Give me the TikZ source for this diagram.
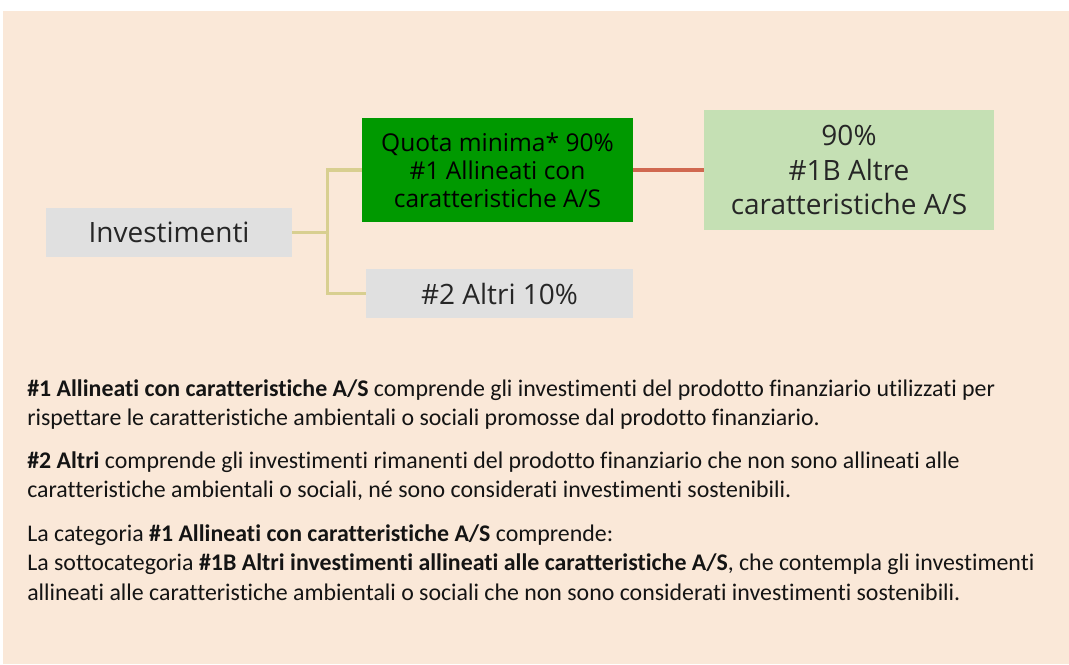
\documentclass[tikz,border=0pt]{standalone}
\usepackage{fontspec}
\setmainfont{Carlito}[Ligatures=CommonOff]
\newfontfamily\boxfont{Open Sans}
\usetikzlibrary{positioning}

\definecolor{pagebg}{RGB}{250,232,216}
\definecolor{greybox}{RGB}{224,224,224}
\definecolor{darkgreen}{RGB}{0,153,0}
\definecolor{lightgreen}{RGB}{197,224,180}
\definecolor{branchline}{RGB}{216,207,144}
\definecolor{sublink}{RGB}{208,104,80}
\definecolor{boxtext}{RGB}{38,38,38}
\definecolor{bodytext}{RGB}{20,20,20}

\begin{document}
\begin{tikzpicture}[
        % Picture Config (1 unit = 1 px of the page)
        x=0.75pt, y=-0.75pt,
        MapBox/.style={% Style for the boxes of the map
          inner sep=0pt,
          align=center,
          text=boxtext,
          font=\boxfont\fontsize{21}{26}\selectfont
        },
        GreyBox/.style={MapBox, fill=greybox},
        Branch/.style={% Style for the main branches
          draw=branchline,
          line width=2.3pt
        },
        SubLink/.style={% Style for the sub category link
          draw=sublink,
          line width=2.4pt
        },
        NoteText/.style={% Style for the notes below
          anchor=north west,
          inner sep=0pt,
          align=left,
          text=bodytext,
          font=\fontsize{17.9}{22}\selectfont
        }
      ]

      % Page background
      \useasboundingbox (0,0) rectangle (1069,664);
      \fill[pagebg] (3,11) rectangle (1069,664);

      % Put the boxes in position
      \node[GreyBox, minimum width=184.5pt, minimum height=36.75pt] (Inv) at (169,232.5) {Investimenti};
      \node[MapBox, fill=darkgreen, text=black, minimum width=203.25pt, minimum height=78pt,
            font=\boxfont\fontsize{18.4}{21}\selectfont] (Quota) at (497.5,170)
          {Quota minima* 90\%\\\#1 Allineati con\\caratteristiche A/S};
      \node[GreyBox, minimum width=200.25pt, minimum height=36.75pt] (Altri) at (499.5,293.5) {\#2 Altri 10\%};
      \node[MapBox, fill=lightgreen, minimum width=217.5pt, minimum height=90pt] (Altre) at (849,170)
          {90\%\\\#1B Altre\\caratteristiche A/S};

      % Draw the branches
      \draw[Branch]
      (Inv.east)
          -- ++(35,0) coordinate (Fork)
          |- (Quota.west)
      (Fork)
          |- (Altri.west);
      \draw[SubLink] (Quota.east) -- (Altre.west);

      % Notes
      \node[NoteText] (Note1) at (27,379)
          {\textbf{\#1 Allineati con caratteristiche A/S} comprende gli investimenti del prodotto finanziario utilizzati per\\
           rispettare le caratteristiche ambientali o sociali promosse dal prodotto finanziario.};
      \node[NoteText] (Note2) at (27,451)
          {\textbf{\#2 Altri} comprende gli investimenti rimanenti del prodotto finanziario che non sono allineati alle\\
           caratteristiche ambientali o sociali, né sono considerati investimenti sostenibili.};
      \node[NoteText] (Note3) at (27,524.5)
          {La categoria \textbf{\#1 Allineati con caratteristiche A/S} comprende:\\
           La sottocategoria \textbf{\#1B Altri investimenti allineati alle caratteristiche A/S}, che contempla gli investimenti\\
           allineati alle caratteristiche ambientali o sociali che non sono considerati investimenti sostenibili.};

      \end{tikzpicture}
\end{document}
